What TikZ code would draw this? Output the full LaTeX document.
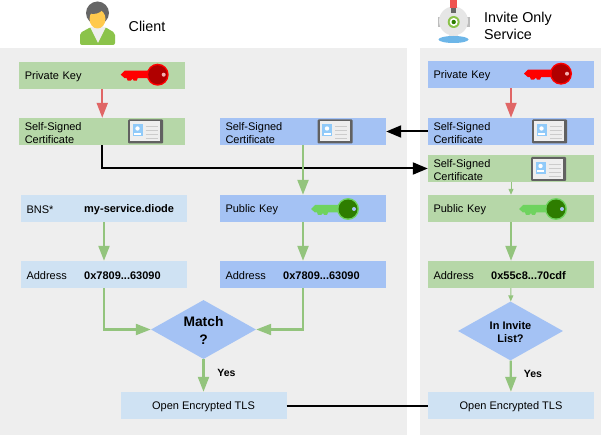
\documentclass[tikz,border=0pt]{standalone}
\usepackage{fontspec}
\setmainfont{Liberation Sans}
\usetikzlibrary{arrows.meta}
\usetikzlibrary{shapes.geometric, math}
\definecolor{panelgray}{HTML}{EEEEEE}
\definecolor{boxgreen}{HTML}{B6D7A8}
\definecolor{boxblue}{HTML}{A4C2F4}
\definecolor{boxpale}{HTML}{CFE2F3}
\definecolor{arrowgreen}{HTML}{93C47D}
\definecolor{arrowred}{HTML}{E06666}
\definecolor{keyred}{HTML}{FF0000}
\definecolor{keyredhead}{HTML}{B00000}
\definecolor{keyredhole}{HTML}{F4B0B0}
\definecolor{keygreen}{HTML}{6FD35F}
\definecolor{keygreenhead}{HTML}{2E7D00}
\definecolor{keygreenhole}{HTML}{A4C2F4}
\definecolor{cardgray}{HTML}{616161}
\definecolor{cardblue}{HTML}{90CAF9}
\definecolor{shirtgreen}{HTML}{8BC34A}
\definecolor{hairgray}{HTML}{666666}
\definecolor{faceyellow}{HTML}{FFC94D}
\definecolor{robotgray}{HTML}{E6E6E6}
\definecolor{robotear}{HTML}{BDBDBD}
\definecolor{robotbase}{HTML}{6DB6E8}
\definecolor{usbred}{HTML}{EF5350}

\tikzset{
  box/.style={rectangle, text width=155pt, text height=10.5pt, inner xsep=5.5pt, inner ysep=0pt, minimum height=27pt, align=left,
    font=\fontsize{11}{13}\selectfont},
  valtext/.style={anchor=west, inner sep=0pt, font=\fontsize{11}{13}\selectfont\bfseries},
  opentls/.style={rectangle, fill=boxpale, minimum width=166pt, minimum height=27pt, inner sep=0pt, text height=10.5pt,
    font=\fontsize{11}{13}\selectfont},
  decide/.style={diamond, aspect=1.78, fill=boxblue, minimum width=105pt, minimum height=59pt, inner sep=0pt, align=center},
  greenflow/.style={draw=arrowgreen, line width=2.2pt, -{Triangle[length=15pt,width=11pt]}},
  greenthin/.style={draw=arrowgreen, line width=1pt, -{Triangle[length=6pt,width=5pt]}},
  redflow/.style={draw=arrowred, line width=2pt, -{Triangle[length=15pt,width=11pt]}},
  blackflow/.style={draw=black, line width=2pt, -{Triangle[length=15pt,width=12pt]}},
  pics/keyicon/.style n args={3}{code={
    \fill[#1] (-37,0) -- (-33,-4) -- (-9,-4) -- (-9,3.5) -- (-20,3.5) -- (-21,6) -- (-24,6) -- (-25,4)
      -- (-27,6) -- (-30,6) -- (-31,3.5) -- (-33,3.5) -- cycle;
    \fill[#1] (0,0) circle (11);
    \fill[#2] (0,0) circle (9.5);
    \fill[#3] (6,0) circle (2);
  }},
  pics/cardicon/.style={code={
    \fill[cardgray, rounded corners=1pt] (-17.5,-12) rectangle (17.5,12);
    \fill[panelgray] (-15.5,-10) rectangle (14.5,10);
    \fill[cardblue] (-13,-7) rectangle (-3,5);
    \fill[white] (-8,-3) circle (2.2);
    \fill[white] (-11.5,3.5) -- (-11.5,1.5) -- (-4.5,1.5) -- (-4.5,3.5) -- cycle;
    \foreach \ly in {-5,-1,3,7} {
      \draw[gray!40, line width=0.8pt] (0,\ly) -- (12,\ly);
    }
  }},
}

\begin{document}
\begin{tikzpicture}[x=1pt, y=-1pt]
\tikzmath{
\Cx=102.25;
\Lx=104;
\Mx=303;
\Sx=511;
}
\useasboundingbox (0,0) rectangle (601,435);

% panels
\fill[panelgray] (0,48) rectangle (407,435);
\fill[panelgray] (420,48) rectangle (601,435);

% client figure
\fill[shirtgreen, rounded corners=2pt] (80,45) -- (80,33) -- (91,27) -- (105,27) -- (115,33) -- (115,45) -- cycle;
\fill[panelgray] (90,27) -- (106,27) -- (98,43) -- cycle;
\fill[hairgray] (97.5,13) circle (11.5);
\fill[faceyellow] (97.5,19) ellipse (8 and 9.5);
\fill[hairgray] (89,13) .. controls (93,15) and (100,14) .. (103,9) -- (97,6) -- cycle;
\node[anchor=west, inner sep=0pt, font=\fontsize{14.3}{17}\selectfont] (clienttitle) at (128.5,26.5) {Client};

% service figure
\fill[robotear] (437.5,17) rectangle (469.5,27);
\fill[robotgray] (453.5,21) circle (14.5);
\fill[robotgray] (449,30) rectangle (458,38);
\fill[robotbase] (453.5,39.5) ellipse (15 and 3.5);
\fill[usbred] (450,0) rectangle (457,8);
\fill[hairgray] (451,8) rectangle (456,13);
\fill[shirtgreen] (453.7,22) circle (6);
\fill[white] (453.7,22) circle (4);
\fill[keygreenhead] (453.7,22) circle (2.2);
\node[anchor=west, inner sep=0pt, align=left, font=\fontsize{14.3}{17}\selectfont] (servicetitle) at (484,25.5) {Invite Only\\Service};

% client column
\node[box, fill=boxgreen] (ckey) at (\Cx,75.5) {Private Key};
\node[box, fill=boxgreen] (ccert) at (\Cx,131.5) {Self-Signed\\Certificate};
\node[box, fill=boxpale] (cbns) at (\Lx,208.5) {BNS*};
\node[box, fill=boxpale] (caddr) at (\Lx,274.5) {Address};
\node[valtext] (cbnsval) at (84,209.5) {my-service.diode};
\node[valtext] (caddrval) at (84,275.5) {0x7809...63090};
\pic at (157.7,74.7) {keyicon={keyred}{keyredhead}{keyredhole}};
\pic at (145.5,131.5) {cardicon};

% copy of the service data
\node[box, fill=boxblue] (mcert) at (\Mx,131.5) {Self-Signed\\Certificate};
\node[box, fill=boxblue] (mpub) at (\Mx,208.5) {Public Key};
\node[box, fill=boxblue] (maddr) at (\Mx,274.5) {Address};
\node[valtext] (maddrval) at (283,275.5) {0x7809...63090};
\pic at (335,131.5) {cardicon};
\pic at (348,209) {keyicon={keygreen}{keygreenhead}{keygreenhole}};

\node[decide, font=\fontsize{13.8}{18}\selectfont\bfseries] (match) at (203.5,329.5) {\rule{0pt}{12pt}Match\\?};
\node[opentls] (copen) at (203.5,405.5) {Open Encrypted TLS};
\node[inner sep=0pt, font=\fontsize{10.5}{13}\selectfont\bfseries] (cyes) at (226.5,373) {Yes};

% service column
\node[box, fill=boxblue] (skey) at (\Sx,74.5) {Private Key};
\node[box, fill=boxblue] (scert) at (\Sx,131.5) {Self-Signed\\Certificate};
\node[box, fill=boxgreen] (sself) at (\Sx,168.5) {Self-Signed\\Certificate};
\node[box, fill=boxgreen] (spub) at (\Sx,208.5) {Public Key};
\node[box, fill=boxgreen] (saddr) at (\Sx,274.5) {Address};
\node[valtext] (saddrval) at (491,275.5) {0x55c8...70cdf};
\pic at (561,73.7) {keyicon={keyred}{keyredhead}{keyredhole}};
\pic at (549.5,131.5) {cardicon};
\pic at (548.5,169) {cardicon};
\pic at (556,209) {keyicon={keygreen}{keygreenhead}{keygreenhole}};

\node[decide, font=\fontsize{11}{13}\selectfont\bfseries] (invite) at (510.5,331) {\rule{0pt}{10pt}In Invite\\List?};
\node[opentls] (sopen) at (\Sx,405.5) {Open Encrypted TLS};
\node[inner sep=0pt, font=\fontsize{10.5}{13}\selectfont\bfseries] (syes) at (533,373.5) {Yes};

% connectors
\draw[redflow] (ckey) -- (ccert);
\draw[redflow] (skey) -- (scert);
\draw[blackflow] (scert) -- (mcert);
\draw[blackflow] (ccert.south) |- (sself.west);
\draw[greenflow] (mcert) -- (mpub);
\draw[greenflow] (cbns) -- (caddr);
\draw[greenflow] (mpub) -- (maddr);
\draw[greenflow] (spub) -- (saddr);
\draw[greenthin] (sself) -- (spub);
\draw[greenthin] (saddr) -- (invite);
\draw[greenflow] (caddr.south) |- (match.west);
\draw[greenflow] (maddr.south) |- (match.east);
\draw[greenflow] (match) -- (copen);
\draw[greenflow] (invite) -- (sopen);
\draw[line width=2pt] (copen) -- (sopen);

\end{tikzpicture}
\end{document}
